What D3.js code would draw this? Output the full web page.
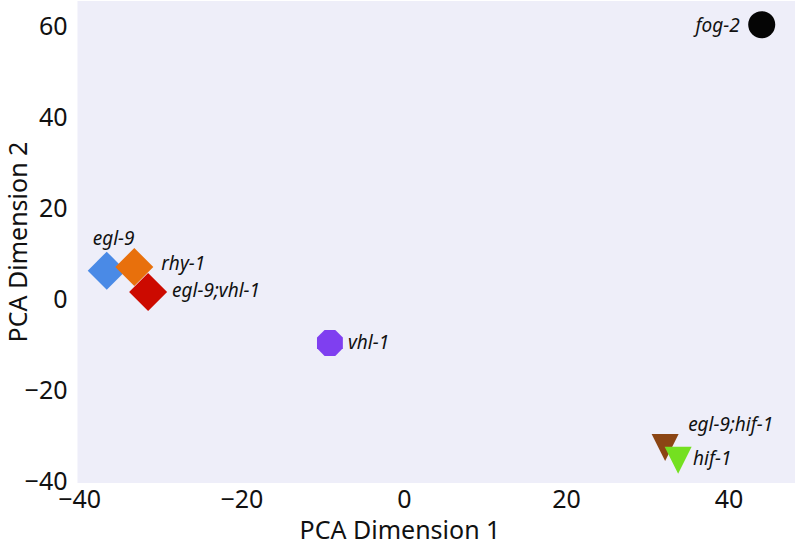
<!DOCTYPE html>
<html>
<head>
<meta charset="utf-8">
<script src="https://cdn.jsdelivr.net/npm/d3@7"></script>
<style>
  body { margin: 0; background: #fff; }
  text { font-family: "Noto Sans", "DejaVu Sans", sans-serif; }
</style>
</head>
<body>
<div id="chart"></div>
<script>
// data
const genotypes = ["egl-9", "rhy-1", "egl-9;vhl-1", "vhl-1", "egl-9;hif-1", "hif-1", "fog-2"];
const pc1 = [-36.6, -33.2, -31.5, -9.1, 32.2, 33.8, 44.1];
const pc2 = [6.1, 6.9, 1.4, -9.8, -32.8, -35.6, 60.2];
const xTicks = [-40, -20, 0, 20, 40];
const yTicks = [-40, -20, 0, 20, 40, 60];

// style
const colors = ["#4a8ae6", "#e8700c", "#cc0a00", "#7f3ff0", "#8b4514", "#74e020", "#050505"];
const shapes = ["diamond", "diamond", "diamond", "octagon", "tri", "tri", "circle"];
// label offsets in px from marker centre [dx, dy, anchor]
const labelPos = [[-14, -26, "start"], [27, 3, "start"], [24, 5, "start"], [18, 6, "start"],
                  [23, -17, "start"], [15, 5, "start"], [-22, 7, "end"]];

const width = 796, height = 546;
const plot = { left: 77.5, right: 795, top: 1, bottom: 483 };

const svg = d3.select("#chart").append("svg")
  .attr("width", width)
  .attr("height", height);

const x = d3.scaleLinear().domain([-40.2, 48.2]).range([plot.left, plot.right]);
const y = d3.scaleLinear().domain([-40.6, 65.4]).range([plot.bottom, plot.top]);

svg.append("rect")
  .attr("x", plot.left)
  .attr("y", plot.top)
  .attr("width", plot.right - plot.left)
  .attr("height", plot.bottom - plot.top)
  .attr("fill", "#eeeef9");

// axes, no lines or tick marks, just labels
const xAxis = svg.append("g")
  .attr("transform", `translate(0,${plot.bottom})`)
  .call(d3.axisBottom(x).tickValues(xTicks).tickSize(0).tickPadding(5).tickFormat(d3.format("")));
const yAxis = svg.append("g")
  .attr("transform", `translate(${plot.left},0)`)
  .call(d3.axisLeft(y).tickValues(yTicks).tickSize(0).tickPadding(10).tickFormat(d3.format("")));

[xAxis, yAxis].forEach((g) => {
  g.select(".domain").remove();
  g.selectAll("text")
    .attr("font-family", "Noto Sans, DejaVu Sans, sans-serif")
    .attr("font-size", "25px")
    .attr("fill", "#111");
});
xAxis.selectAll("text").attr("dy", "0.78em");
yAxis.selectAll("text").attr("dy", "0.36em");

svg.append("text")
  .attr("x", 400)
  .attr("y", 539)
  .attr("text-anchor", "middle")
  .attr("font-size", "25px")
  .attr("fill", "#111")
  .text("PCA Dimension 1");

svg.append("text")
  .attr("transform", `translate(27,${(plot.top + plot.bottom) / 2}) rotate(-90)`)
  .attr("text-anchor", "middle")
  .attr("font-size", "25px")
  .attr("fill", "#111")
  .text("PCA Dimension 2");

function shapePath(kind) {
  if (kind === "diamond") {
    const r = 19;
    return `M0,${-r} L${r},0 L0,${r} L${-r},0 Z`;
  }
  if (kind === "tri") {
    const h = 13.5;
    return `M${-h},${-h} L${h},${-h} L0,${h} Z`;
  }
  if (kind === "octagon") {
    const r = 14;
    const pts = d3.range(8).map((i) => {
      const a = Math.PI / 8 + i * Math.PI / 4;
      return [r * Math.cos(a), r * Math.sin(a)];
    });
    return "M" + pts.map((p) => p.join(",")).join("L") + "Z";
  }
  return null;
}

genotypes.forEach((name, i) => {
  const cx = x(pc1[i]);
  const cy = y(pc2[i]);
  if (shapes[i] === "circle") {
    svg.append("circle")
      .attr("cx", cx)
      .attr("cy", cy)
      .attr("r", 13.5)
      .attr("fill", colors[i]);
  } else {
    svg.append("path")
      .attr("transform", `translate(${cx},${cy})`)
      .attr("d", shapePath(shapes[i]))
      .attr("fill", colors[i]);
  }
});

genotypes.forEach((name, i) => {
  const [dx, dy, anchor] = labelPos[i];
  svg.append("text")
    .attr("x", x(pc1[i]) + dx)
    .attr("y", y(pc2[i]) + dy)
    .attr("text-anchor", anchor)
    .attr("font-size", "19px")
    .attr("font-style", "italic")
    .attr("fill", "#111")
    .text(name);
});
</script>
</body>
</html>
